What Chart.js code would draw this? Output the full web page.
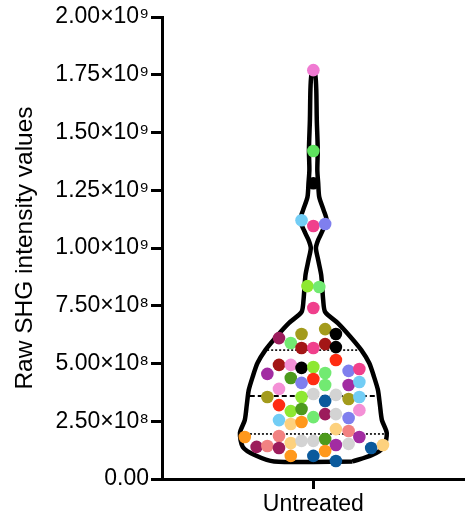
<!DOCTYPE html>
<html>
<head>
<meta charset="utf-8">
<script src="https://cdn.jsdelivr.net/npm/chart.js@4.4.1/dist/chart.umd.min.js"></script>
<style>
  html,body{margin:0;padding:0;background:#fff;}
  #wrap{width:471px;height:522px;}
</style>
</head>
<body>
<div id="wrap"><canvas id="violin"></canvas></div>
<script>
// data
var category = 'Untreated';
var yTicks = [0, 2.5e8, 5e8, 7.5e8, 1e9, 1.25e9, 1.5e9, 1.75e9, 2e9];

// violin outline: value levels and relative density (1 = widest)
var violinLevels  = [0.76e8, 1.04e8, 1.39e8, 1.99e8, 2.55e8, 3.20e8, 3.85e8, 4.42e8, 5.02e8, 5.58e8, 6.15e8, 6.75e8, 7.23e8, 7.75e8, 8.83e8, 9.48e8, 10.0e8, 10.35e8, 10.78e8, 11.21e8, 11.64e8, 12.21e8, 12.81e8, 13.38e8, 14.24e8, 15.54e8, 16.84e8, 17.49e8, 17.7e8];
var violinDensity = [0.534, 0.80, 0.961, 1.0, 0.934, 0.907, 0.88, 0.827, 0.761, 0.654, 0.507, 0.334, 0.161, 0.134, 0.107, 0.066, 0.035, 0.066, 0.13, 0.18, 0.14, 0.08, 0.066, 0.054, 0.06, 0.047, 0.04, 0.027, 0];

var median = 3.59e8, q1 = 1.95e8, q3 = 5.58e8;

// individual points
var pointValues = [17.7e8, 14.2e8, 12.8e8, 11.2e8, 10.95e8, 11.04e8, 8.35e8, 8.31e8, 7.40e8,
  6.10e8, 6.28e8, 6.49e8, 6.28e8, 5.89e8, 5.67e8, 5.67e8, 5.84e8, 5.71e8, 5.15e8,
  4.94e8, 4.94e8, 4.81e8, 4.85e8, 4.55e8, 4.37e8, 4.16e8, 4.33e8, 4.59e8, 4.07e8,
  4.68e8, 4.76e8, 4.07e8, 4.20e8, 3.90e8, 3.55e8, 3.55e8, 3.68e8, 3.38e8, 3.64e8,
  3.46e8, 3.55e8, 3.20e8, 2.94e8, 3.03e8, 2.68e8, 2.81e8, 2.81e8, 2.64e8, 2.98e8,
  2.55e8, 2.38e8, 2.47e8, 2.16e8, 2.08e8, 1.82e8, 1.86e8, 1.82e8, 1.39e8, 1.43e8,
  1.34e8, 1.56e8, 1.65e8, 1.65e8, 1.73e8, 1.47e8, 1.52e8, 1.00e8, 1.00e8, 1.21e8,
  0.78e8, 1.34e8, 1.47e8];
var pointJitter = [0, 0, 0, -0.078, 0, 0.078, -0.039, 0.039, 0,
  -0.227, -0.078, 0.078, 0.149, -0.149, -0.078, 0, 0.078, 0.149, 0.149,
  -0.227, -0.149, -0.078, 0, -0.304, -0.149, -0.078, 0, 0.078, 0.078,
  0.233, 0.304, 0.233, 0.304, -0.227, -0.304, -0.078, 0, 0.078, 0.149,
  0.233, 0.304, -0.227, -0.149, -0.078, 0, 0.078, 0.149, 0.233, 0.304,
  -0.227, -0.149, -0.078, 0.149, 0.233, -0.453, -0.227, 0.304, -0.375, -0.304,
  -0.227, -0.149, -0.078, 0, 0.078, 0.149, 0.233, -0.149, 0, 0.078,
  0.149, 0.382, 0.46];

var pink='#f07ad2', green='#5ee35e', black='#000000', lightblue='#72cdf5', magenta='#f0408c',
    violet='#7f7fee', chartreuse='#8ee832', lightgreen='#72ea72', maroon='#9c1c5c', olive='#a39b1c',
    darkred='#a31616', red='#ff2c12', lpink='#f490d6', purple='#a22ca2', ogreen='#4c9a1c',
    gray='#d3d3d3', darkblue='#0b5a9c', peach='#fdd17e', orange='#ff981c', salmon='#f28282';
var pointColors = [pink, green, black, lightblue, magenta, violet, chartreuse, lightgreen, magenta,
  maroon, olive, olive, black, lightgreen, darkred, magenta, darkred, black, red,
  darkred, lpink, black, chartreuse, purple, ogreen, violet, red, lightgreen, lightgreen,
  violet, magenta, purple, lightblue, lpink, olive, chartreuse, gray, darkblue, gray,
  olive, lightblue, red, chartreuse, ogreen, lightgreen, maroon, gray, violet, lpink,
  lightblue, peach, orange, peach, salmon, orange, salmon, purple, maroon, salmon,
  maroon, peach, gray, gray, ogreen, purple, gray, orange, darkblue, orange,
  darkblue, darkblue, peach];

var halfWidth = 0.485;

function widthAt(v){
  for (var i = 0; i < violinLevels.length - 1; i++) {
    if (v >= violinLevels[i] && v <= violinLevels[i+1]) {
      var t = (v - violinLevels[i]) / (violinLevels[i+1] - violinLevels[i]);
      return halfWidth * (violinDensity[i] + t * (violinDensity[i+1] - violinDensity[i]));
    }
  }
  return 0;
}

// outline: right side up, left side down, closed at the bottom
var outline = [];
for (var i = 0; i < violinLevels.length; i++) outline.push({x: halfWidth*violinDensity[i], y: violinLevels[i]});
for (var j = violinLevels.length - 2; j >= 0; j--) outline.push({x: -halfWidth*violinDensity[j], y: violinLevels[j]});
outline.push({x: halfWidth*violinDensity[0], y: violinLevels[0]});

function hline(v){ var w = widthAt(v) - 0.012; return [{x:-w, y:v}, {x:w, y:v}]; }

var points = pointValues.map(function(v, k){ return {x: pointJitter[k], y: v}; });

function fmt(v){
  if (v === 0) return '0.00';
  if (v >= 1e9) return (v/1e9).toFixed(2) + '×10⁹';
  return (v/1e8).toFixed(2) + '×10⁸';
}

new Chart(document.getElementById('violin'), {
  type: 'scatter',
  data: {
    datasets: [
      {data: points, pointRadius: 6.3, pointHoverRadius: 6.3, pointBorderWidth: 0,
       pointBackgroundColor: pointColors, showLine: false},
      {data: hline(median), showLine: true, borderColor: '#000', borderWidth: 2, borderDash: [5,3], pointRadius: 0},
      {data: hline(q1), showLine: true, borderColor: '#000', borderWidth: 1.6, borderDash: [2,2], pointRadius: 0},
      {data: hline(q3), showLine: true, borderColor: '#000', borderWidth: 1.6, borderDash: [2,2], pointRadius: 0},
      {data: outline, showLine: true, borderColor: '#000', borderWidth: 4.5, pointRadius: 0, tension: 0.25,
       borderJoinStyle: 'round', fill: false}
    ]
  },
  options: {
    responsive: true,
    maintainAspectRatio: false,
    animation: false,
    layout: {padding: {top: 17, right: 0, left: 0, bottom: 0}},
    plugins: {legend: {display: false}, tooltip: {enabled: false}},
    scales: {
      x: {
        type: 'linear', min: -1, max: 1,
        afterBuildTicks: function(s){ s.ticks = [{value: 0}]; },
        afterFit: function(s){ s.height = 43; },
        grid: {drawOnChartArea: false, drawTicks: true, tickLength: 10, tickWidth: 3, tickColor: '#000'},
        border: {display: true, color: '#000', width: 3},
        ticks: {padding: 2, color: '#000', font: {family: 'Liberation Sans', size: 23},
                callback: function(){ return category; }}
      },
      y: {
        min: 0, max: 2e9,
        afterBuildTicks: function(s){ s.ticks = yTicks.map(function(v){ return {value: v}; }); },
        afterFit: function(s){ s.width = 162; },
        grid: {drawOnChartArea: false, drawTicks: true, tickLength: 11, tickWidth: 3, tickColor: '#000'},
        border: {display: true, color: '#000', width: 3},
        ticks: {padding: 2, color: '#000', font: {family: 'Liberation Sans', size: 23},
                callback: function(v){ return fmt(v); }},
        title: {display: true, text: 'Raw SHG intensity values', color: '#000',
                font: {family: 'Liberation Sans', size: 24.5}, padding: {top: 11, bottom: 0}}
      }
    }
  }
});
</script>
</body>
</html>
